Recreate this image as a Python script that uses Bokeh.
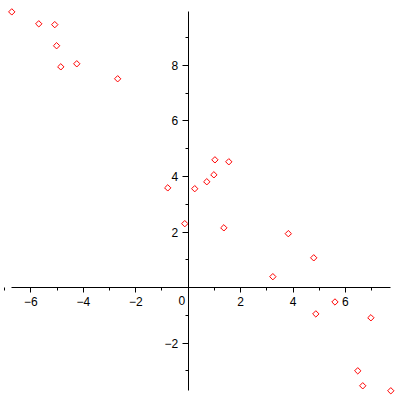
from bokeh.plotting import figure
from bokeh.models import Range1d, FixedTicker, Label
from bokeh.embed import file_html
from bokeh.resources import INLINE
import numpy as np

xs = [-6.73, -5.70, -5.09, -5.02, -4.86, -4.25, -2.69,
      -0.78, -0.13, 0.25, 0.71, 0.98, 1.02, 1.55, 1.36,
      3.23, 3.82, 4.79, 4.87, 5.60, 6.97, 6.47, 6.66, 7.73]
ys = [9.93, 9.50, 9.47, 8.71, 7.95, 8.06, 7.52,
      3.59, 2.30, 3.56, 3.81, 4.06, 4.60, 4.53, 2.15,
      0.39, 1.94, 1.07, -0.95, -0.52, -1.09, -3.00, -3.54, -3.72]

x_major = [-6, -4, -2, 2, 4, 6]
x_minor = [-7, -5, -3, -1, 1, 3, 5, 7]
y_major = [-2, 2, 4, 6, 8]
y_minor = [-3, -1, 1, 3, 5, 7, 9]

p = figure(width=400, height=400, output_backend="svg", toolbar_location=None,
           x_range=Range1d(-7.16, 8.10), y_range=Range1d(-4.07, 10.34),
           min_border=0)
p.outline_line_color = None
p.xgrid.visible = False
p.ygrid.visible = False

p.xaxis.bounds = (min(xs), max(xs))
p.yaxis.bounds = (min(ys), max(ys))

for ax, maj, mnr in ((p.xaxis[0], x_major, x_minor), (p.yaxis[0], y_major, y_minor)):
    ax.fixed_location = 0
    ax.ticker = FixedTicker(ticks=maj, minor_ticks=mnr)
    ax.axis_line_color = "black"
    ax.major_tick_line_color = "black"
    ax.minor_tick_line_color = "black"
    ax.major_tick_in = 0
    ax.minor_tick_in = 0
    ax.major_label_text_font = "Liberation Sans"
    ax.major_label_text_font_size = "12px"
    ax.major_label_text_color = "black"

p.xaxis.major_tick_out = 5
p.xaxis.minor_tick_out = 3
p.xaxis.major_label_standoff = 4
p.yaxis.major_tick_out = 6
p.yaxis.minor_tick_out = 3
p.yaxis.major_label_standoff = 4

p.add_layout(Label(x=0, y=0, text="0", x_offset=-3, y_offset=-8,
                   text_align="right", text_baseline="top",
                   text_font="Liberation Sans", text_font_size="12px",
                   text_color="black"))

p.scatter(xs, ys, marker="square", angle=np.pi / 4, size=4.5,
          fill_color=None, line_color="red", line_width=1)

open("out.html", "w").write(file_html(p, INLINE))
